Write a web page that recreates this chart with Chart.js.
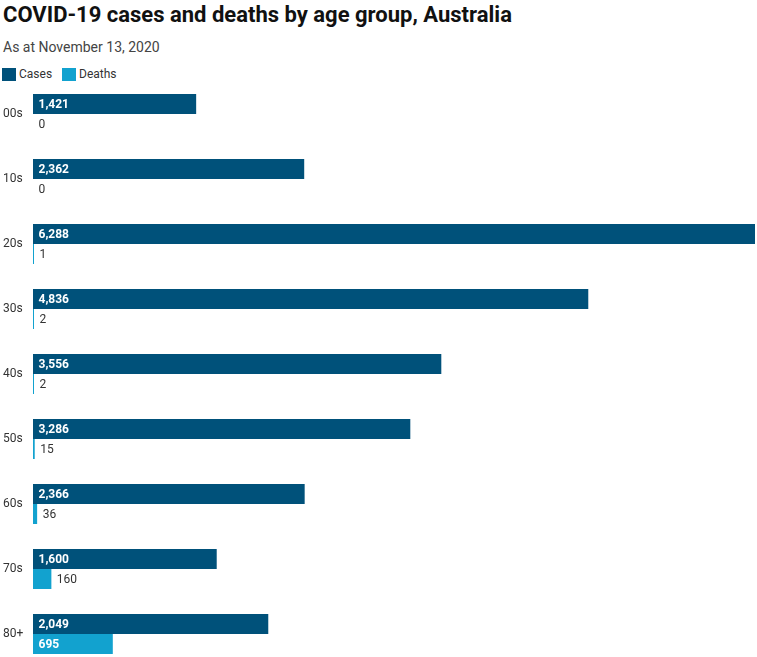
<!DOCTYPE html>
<html>
<head>
<meta charset="utf-8">
<script src="https://cdn.jsdelivr.net/npm/chart.js@4"></script>
<style>
  html, body { margin: 0; padding: 0; background: #fff; overflow: hidden; }
  body { width: 757px; height: 657px; position: relative; font-family: Roboto, sans-serif; }
  .title { position: absolute; left: 3px; top: 3.5px; font-size: 22px; line-height: 1; font-weight: 700; color: #111; white-space: nowrap; }
  .subtitle { position: absolute; left: 3px; top: 39.5px; font-size: 14px; line-height: 1; color: #444; white-space: nowrap; }
  .legend { position: absolute; top: 67px; left: 0; font-size: 12px; line-height: 1; color: #333; }
  .legend span { position: absolute; white-space: nowrap; }
  .sw { width: 14px; height: 13px; top: 1px; }
  #wrap { position: absolute; left: 0; top: 81px; width: 757px; height: 587px; }
</style>
</head>
<body>
<div class="title">COVID-19 cases and deaths by age group, Australia</div>
<div class="subtitle">As at November 13, 2020</div>
<div class="legend">
  <span class="sw" style="left:2px;background:#00517a"></span>
  <span style="left:19px;top:0.6px">Cases</span>
  <span class="sw" style="left:62px;background:#12a2cf"></span>
  <span style="left:79px;top:0.6px">Deaths</span>
</div>
<div id="wrap"><canvas id="chart"></canvas></div>
<script>
const ageGroups = ["00s", "10s", "20s", "30s", "40s", "50s", "60s", "70s", "80+"];
const cases = [1421, 2362, 6288, 4836, 3556, 3286, 2366, 1600, 2049];
const deaths = [0, 0, 1, 2, 2, 15, 36, 160, 695];

const casesColor = '#00517a';
const deathsColor = '#12a2cf';

const fmt = v => v.toLocaleString('en-US');

// value labels: cases inside the bar, deaths outside unless they fit
const barLabels = {
    id: 'barLabels',
    afterDatasetsDraw(chart) {
        const ctx = chart.ctx;
        ctx.save();
        ctx.textBaseline = 'middle';
        ctx.textAlign = 'left';
        chart.data.datasets.forEach((ds, di) => {
            chart.getDatasetMeta(di).data.forEach((bar, i) => {
                const text = fmt(ds.data[i]);
                const w = Math.abs(bar.x - bar.base);
                ctx.font = '700 12px Roboto';
                const tw = ctx.measureText(text).width;
                if (w > tw + 12) {
                    ctx.fillStyle = '#fff';
                    ctx.fillText(text, bar.base + 5.5, bar.y + 0.5);
                } else {
                    ctx.font = '400 12px Roboto';
                    ctx.fillStyle = '#333';
                    const start = ds.data[i] === 0 ? bar.base : bar.x;
                    ctx.fillText(text, start + 5.5, bar.y + 0.5);
                }
            });
        });
        ctx.restore();
    }
};

new Chart(document.getElementById('chart'), {
    type: 'bar',
    data: {
        labels: ageGroups,
        datasets: [{
            label: 'Cases',
            data: cases,
            backgroundColor: casesColor,
            categoryPercentage: 40 / 65,
            barPercentage: 1
        }, {
            label: 'Deaths',
            data: deaths,
            backgroundColor: ctx => ctx.raw === 0 ? 'rgba(0,0,0,0)' : deathsColor,
            minBarLength: 1,
            categoryPercentage: 40 / 65,
            barPercentage: 1
        }]
    },
    options: {
        indexAxis: 'y',
        responsive: true,
        maintainAspectRatio: false,
        animation: false,
        layout: {
            padding: { top: 0.5, bottom: 1.5, left: 3, right: 2 }
        },
        scales: {
            x: {
                display: false,
                min: 0,
                max: 6288
            },
            y: {
                grid: { display: false },
                border: { display: false },
                afterFit: scale => {
                    scale.width = 30;
                    scale.paddingTop = 0;
                    scale.paddingBottom = 0;
                },
                ticks: {
                    crossAlign: 'far',
                    color: '#333',
                    font: { family: 'Roboto', size: 12 }
                }
            }
        },
        plugins: {
            legend: { display: false },
            tooltip: { enabled: false }
        }
    },
    plugins: [barLabels]
});
</script>
</body>
</html>
